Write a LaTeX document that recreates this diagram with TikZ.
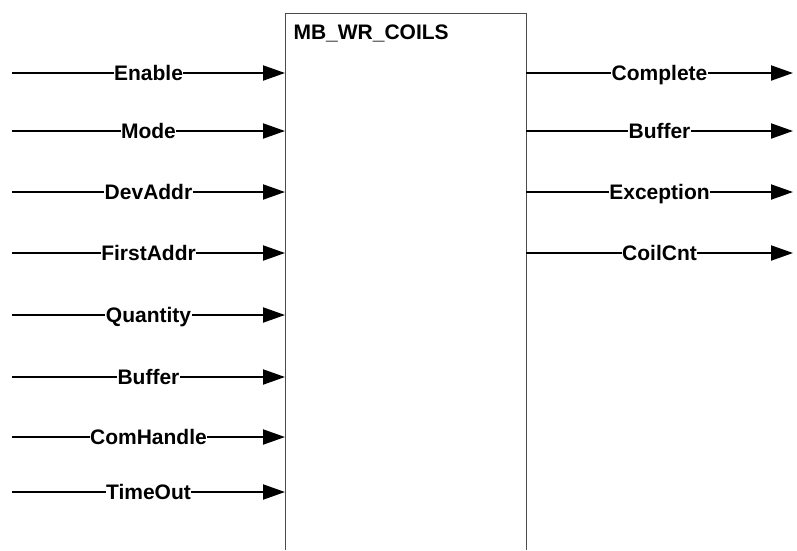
\documentclass[tikz,border=0pt]{standalone}
\usepackage{fontspec}
\usepackage{tikz}
\usetikzlibrary{arrows.meta}
\setsansfont{Liberation Sans}

\tikzset{
  blockline/.style={line width=1pt, black!70},
  sig/.style={line width=2pt, -{Triangle[length=22pt,width=15pt]}},
  lbl/.style={font=\sffamily\bfseries\fontsize{21}{24}\selectfont, fill=white,
    inner sep=0.5pt, anchor=base, yshift=-7.5pt}
}

\begin{document}
\begin{tikzpicture}[x=1pt,y=-1pt]
\useasboundingbox (0,0) rectangle (797,550);

% Function block (runs off the bottom)
\coordinate (bl) at (285,550);
\coordinate (br) at (526,550);
\draw[blockline] (bl) |- (526,13) -- (br);
\node[anchor=base west, font=\sffamily\bfseries\fontsize{21}{24}\selectfont] (title) at (290,39) {MB\_WR\_COILS};

% Inputs
\foreach \name/\y [count=\i] in {Enable/73, Mode/131, DevAddr/192, FirstAddr/253,
    Quantity/315, Buffer/377, ComHandle/437, TimeOut/492} {
  \coordinate (in\i) at (12,\y);
  \coordinate (pin\i) at (285,\y);
  \draw[sig] (in\i) -- node[lbl] (inlbl\i) {\name} (pin\i);
}

% Outputs
\foreach \name/\y [count=\i] in {Complete/73, Buffer/131, Exception/192, CoilCnt/253} {
  \coordinate (pout\i) at (526,\y);
  \coordinate (out\i) at (793,\y);
  \draw[sig] (pout\i) -- node[lbl] (outlbl\i) {\name} (out\i);
}
\end{tikzpicture}
\end{document}
